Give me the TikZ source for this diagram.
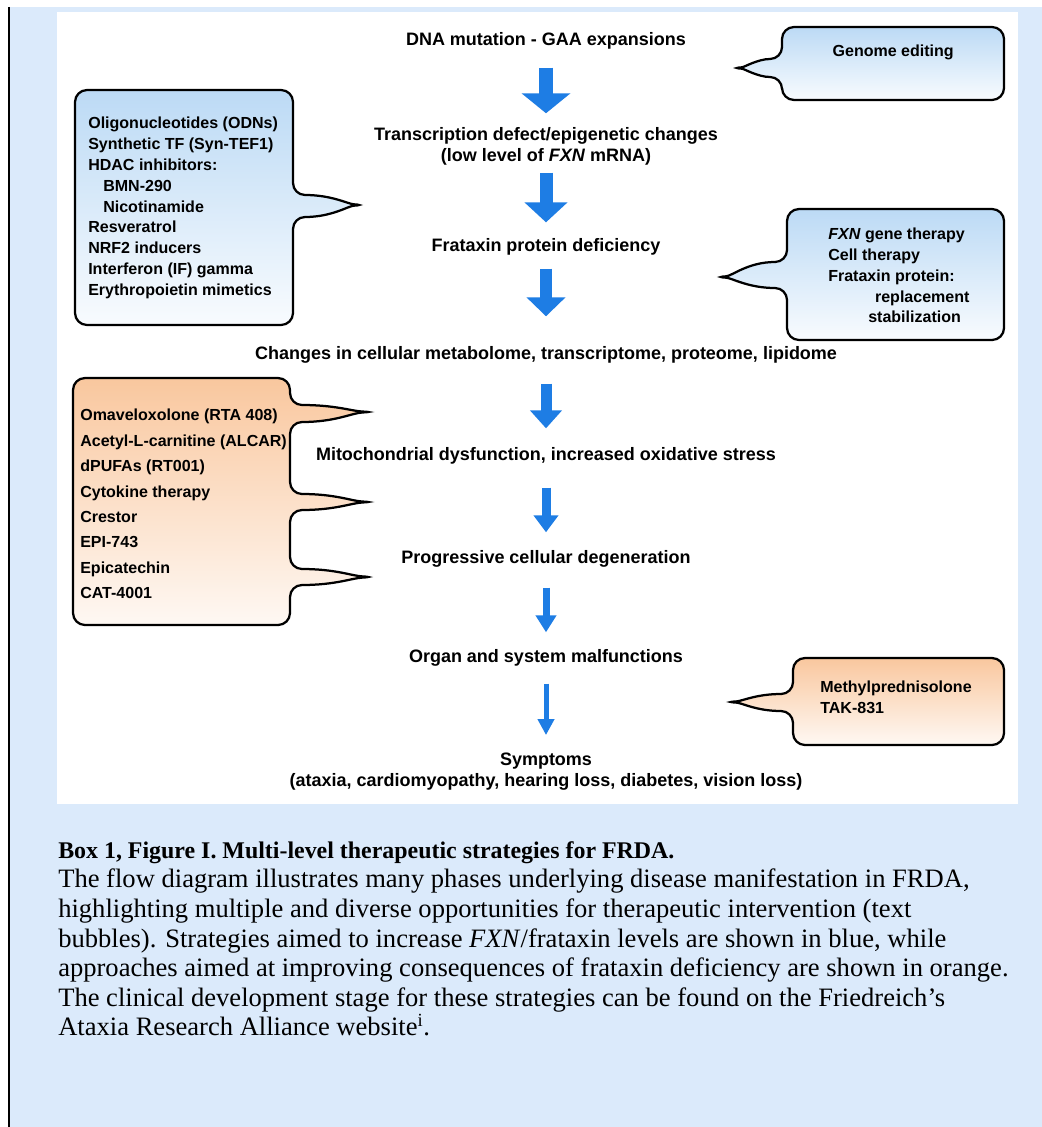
\documentclass[tikz,border=0pt]{standalone}
\usepackage{fontspec}
\setmainfont{Liberation Serif}
\setsansfont{Liberation Sans}
\usetikzlibrary{arrows.meta,positioning}

\definecolor{boxblue}{RGB}{219,234,251}
\definecolor{arrowblue}{RGB}{30,125,228}
\definecolor{bubbleblue}{RGB}{188,218,245}
\definecolor{bubbleorange}{RGB}{249,199,158}

\begin{document}
\begin{tikzpicture}[
    flow/.style={font=\sffamily\bfseries\fontsize{12.8}{14.9}\selectfont, align=center, inner sep=0pt},
    note/.style={font=\sffamily\bfseries\fontsize{11.4}{14.8}\selectfont, align=left, inner sep=0pt},
    bubble/.style={draw=black, line width=1.6pt, rounded corners=0.3cm},
    bluebubble/.style={bubble, top color=bubbleblue, bottom color=white!90!bubbleblue},
    orangebubble/.style={bubble, top color=bubbleorange, bottom color=white!88!bubbleorange},
    cascade/.style n args={3}{draw=arrowblue, line width=#1, -{Triangle[width=#2, length=#3]}},
    caption/.style={font=\fontsize{18.9}{21}\selectfont, align=left, anchor=base west, inner sep=0pt}]

    \useasboundingbox (0,0) rectangle (26.05,-28.175);
    \fill[white] (0,0) rectangle (26.05,-28.175);
    \fill[boxblue] (0.225,-0.175) rectangle (26.05,-28.175);
    \draw[line width=0.8pt] (0.225,-0.175) -- (0.225,-28.175);
    \fill[white] (1.425,-0.3) rectangle (25.45,-20.1);

    % tips of the callouts
    \coordinate (gtip) at (18.25,-1.7);
    \coordinate (etip) at (9.15,-5.125);
    \coordinate (ftip) at (17.85,-6.925);
    \coordinate (otipa) at (9.375,-10.3);
    \coordinate (otipb) at (9.375,-12.55);
    \coordinate (otipc) at (9.375,-14.425);
    \coordinate (mtip) at (18.1,-17.55);

    % callouts
    \draw[bluebubble] (25.1,-1.6) -- (25.1,-0.675) -- (19.55,-0.675) -- (19.55,-1.475)
        .. controls (18.95,-1.475) and (18.6,-1.68) .. (gtip)
        .. controls (18.6,-1.72) and (18.95,-1.925) .. (19.55,-1.925)
        -- (19.55,-2.5) -- (25.1,-2.5) -- cycle;
    \draw[bluebubble] (1.875,-5) -- (1.875,-2.25) -- (7.325,-2.25) -- (7.325,-4.875)
        .. controls (8.3,-4.875) and (8.7,-5.1) .. (etip)
        .. controls (8.7,-5.15) and (8.3,-5.425) .. (7.325,-5.425)
        -- (7.325,-8.125) -- (1.875,-8.125) -- cycle;
    \draw[bluebubble] (25.1,-6.8) -- (25.1,-5.225) -- (19.675,-5.225) -- (19.675,-6.55)
        .. controls (18.7,-6.55) and (18.3,-6.9) .. (ftip)
        .. controls (18.3,-6.95) and (18.7,-7.2) .. (19.675,-7.2)
        -- (19.675,-8.5) -- (25.1,-8.5) -- cycle;
    \draw[orangebubble] (1.825,-12) -- (1.825,-9.45) -- (7.25,-9.45) -- (7.25,-10.125)
        .. controls (8.4,-10.125) and (8.8,-10.28) .. (otipa)
        .. controls (8.8,-10.32) and (8.4,-10.55) .. (7.25,-10.55)
        -- (7.25,-12.35)
        .. controls (8.4,-12.35) and (8.8,-12.53) .. (otipb)
        .. controls (8.8,-12.57) and (8.4,-12.75) .. (7.25,-12.75)
        -- (7.25,-14.225)
        .. controls (8.4,-14.225) and (8.8,-14.4) .. (otipc)
        .. controls (8.8,-14.45) and (8.4,-14.625) .. (7.25,-14.625)
        -- (7.25,-15.625) -- (1.825,-15.625) -- cycle;
    \draw[orangebubble] (25.1,-17.5) -- (25.1,-16.45) -- (19.825,-16.45) -- (19.825,-17.35)
        .. controls (18.9,-17.35) and (18.55,-17.53) .. (mtip)
        .. controls (18.55,-17.57) and (18.9,-17.775) .. (19.825,-17.775)
        -- (19.825,-18.625) -- (25.1,-18.625) -- cycle;

    % callout texts
    \node[note] (genome) at (22.33,-1.3) {Genome editing};
    \node[note, anchor=west] (epigen) at (2.2,-5.2) {Oligonucleotides (ODNs)\\Synthetic TF (Syn-TEF1)\\HDAC inhibitors:\\\hspace*{0.375cm}BMN-290\\\hspace*{0.375cm}Nicotinamide\\Resveratrol\\NRF2 inducers\\Interferon (IF) gamma\\Erythropoietin mimetics};
    \node[note, anchor=west] (fxn) at (20.7,-6.89) {\textit{FXN} gene therapy\\Cell therapy\\Frataxin protein:\\\hspace*{1.17cm}replacement\\\hspace*{1.0cm}stabilization};
    \node[note, anchor=west, font=\sffamily\bfseries\fontsize{11.4}{18.1}\selectfont] (oxid) at (2.0,-12.6) {Omaveloxolone (RTA 408)\\Acetyl-L-carnitine (ALCAR)\\dPUFAs (RT001)\\Cytokine therapy\\Crestor\\EPI-743\\Epicatechin\\CAT-4001};
    \node[note, anchor=west] (steroid) at (20.5,-17.43) {Methylprednisolone\\TAK-831};

    % cascade
    \node[flow] (dna) at (13.65,-1.025) {DNA mutation - GAA expansions};
    \node[flow] (tdef) at (13.65,-3.66) {Transcription defect/epigenetic changes\\(low level of \textit{FXN} mRNA)};
    \node[flow] (frat) at (13.65,-6.175) {Frataxin protein deficiency};
    \node[flow] (omics) at (13.65,-8.875) {Changes in cellular metabolome, transcriptome, proteome, lipidome};
    \node[flow] (mito) at (13.65,-11.4) {Mitochondrial dysfunction, increased oxidative stress};
    \node[flow] (degen) at (13.65,-13.975) {Progressive cellular degeneration};
    \node[flow] (organ) at (13.65,-16.45) {Organ and system malfunctions};
    \node[flow] (sympt) at (13.65,-19.3) {Symptoms\\(ataxia, cardiomyopathy, hearing loss, diabetes, vision loss)};

    \draw[cascade={0.35cm}{1.2cm}{0.5cm}, shorten <=0.45cm, shorten >=0.35cm] (dna) -- (tdef);
    \draw[cascade={0.325cm}{1.05cm}{0.5cm}, shorten <=0.175cm, shorten >=0.4cm] (tdef) -- (frat);
    \draw[cascade={0.3cm}{0.95cm}{0.475cm}, shorten <=0.325cm, shorten >=0.75cm] (frat) -- (omics);
    \draw[cascade={0.275cm}{0.775cm}{0.45cm}, shorten <=0.5cm, shorten >=0.475cm] (omics) -- (mito);
    \draw[cascade={0.225cm}{0.6cm}{0.425cm}, shorten <=0.575cm, shorten >=0.45cm] (mito) -- (degen);
    \draw[cascade={0.175cm}{0.5cm}{0.425cm}, shorten <=0.5cm, shorten >=0.425cm] (degen) -- (organ);
    \draw[cascade={0.125cm}{0.4cm}{0.4cm}, shorten <=0.425cm, shorten >=0.45cm] (organ) -- (sympt);

    % caption
    \node[caption, font=\fontsize{17}{21}\selectfont\bfseries] (caphead) at (1.45,-21.46) {Box 1, Figure I. Multi-level therapeutic strategies for FRDA.};
    \node[caption] (captext) at (1.45,-25.89) {The flow diagram illustrates many phases underlying disease manifestation in FRDA,\\highlighting multiple and diverse opportunities for therapeutic intervention (text\\bubbles). Strategies aimed to increase \textit{FXN}/frataxin levels are shown in blue, while\\approaches aimed at improving consequences of frataxin deficiency are shown in orange.\\The clinical development stage for these strategies can be found on the Friedreich’s\\Ataxia Research Alliance website\textsuperscript{i}.};
\end{tikzpicture}
\end{document}
